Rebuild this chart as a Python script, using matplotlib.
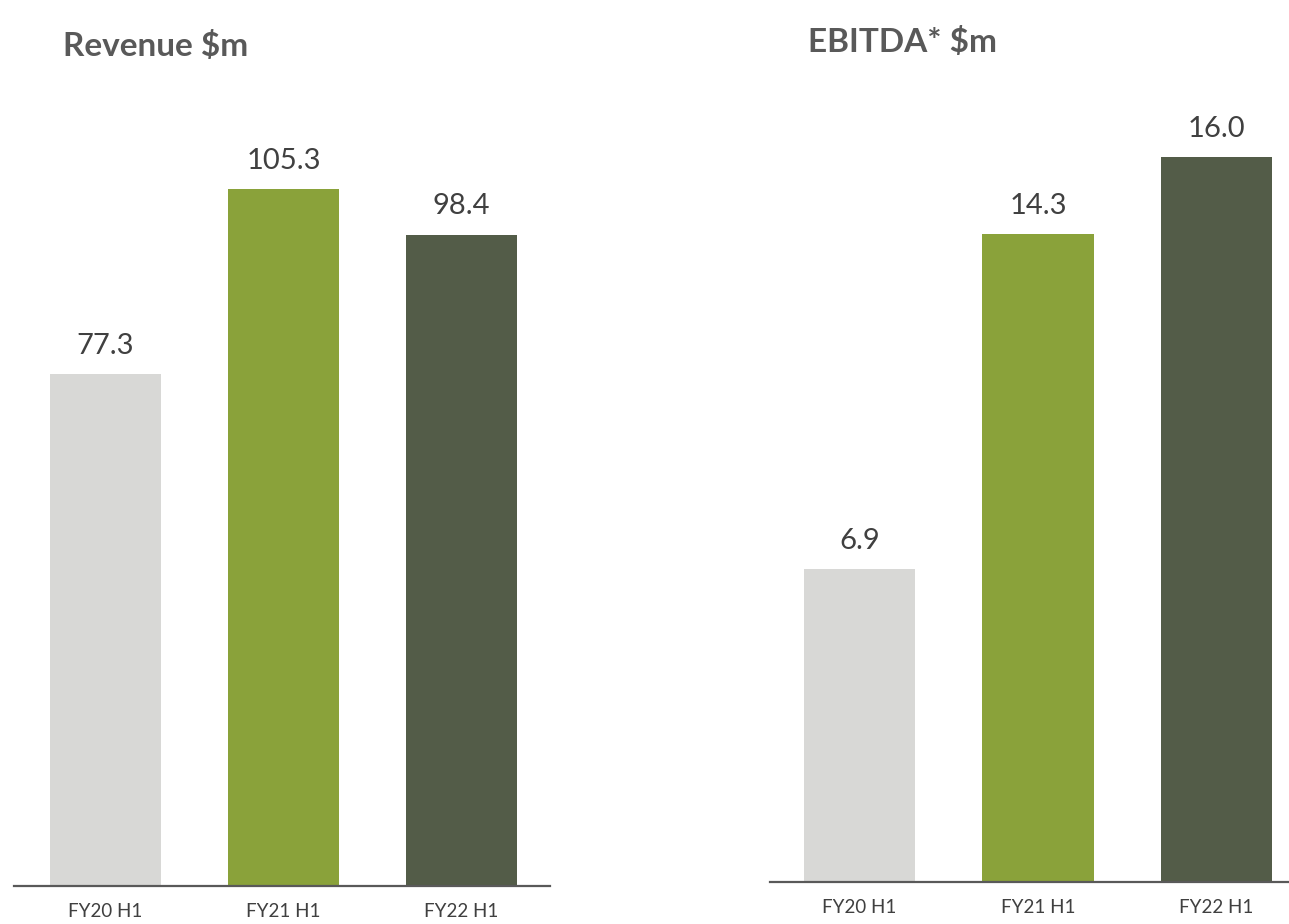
import matplotlib.pyplot as plt

# Half-year results
periods = ["FY20 H1", "FY21 H1", "FY22 H1"]
revenue = [77.3, 105.3, 98.4]
ebitda = [6.9, 14.3, 16.0]
bar_colors = ["#d8d8d6", "#8aa23a", "#535c48"]

plt.rcParams['font.family'] = ['Lato', 'DejaVu Sans']

fig = plt.figure(figsize=(12.89, 9.24), dpi=100)
W, H = 1289, 924


def panel(left, right, base, top, xlim, ylim, values, width):
    ax = fig.add_axes([left / W, (H - base) / H, (right - left) / W, (base - top) / H])
    x = range(len(values))
    bars = ax.bar(x, values, width=width, color=bar_colors, zorder=2)
    for b, v in zip(bars, values):
        ax.annotate(f"{v:.1f}", (b.get_x() + b.get_width() / 2, v),
                    xytext=(0, 11), textcoords="offset points",
                    ha="center", va="bottom", fontsize=21, color="#404040")
    ax.set_xlim(*xlim)
    ax.set_ylim(*ylim)
    ax.set_xticks(list(x))
    ax.set_xticklabels(periods, fontsize=13.5, color="#404040")
    ax.tick_params(axis="x", length=0, pad=12)
    ax.set_yticks([])
    for s in ["top", "right", "left"]:
        ax.spines[s].set_visible(False)
    ax.spines["bottom"].set_color("#595959")
    ax.spines["bottom"].set_linewidth(1.6)
    return ax


# revenue: 6.619 px per $m, bars 178 px apart
panel(14, 550, 886, 100, (-0.514, 2.497), (0, 786 / 6.619), revenue, 0.624)
# ebitda: 45.31 px per $m
panel(770, 1289, 882, 100, (-0.501, 2.406), (0, 782 / 45.31), ebitda, 0.622)

fig.text(63 / W, 1 - 56 / H, "Revenue $m", fontsize=24, fontweight="bold",
         color="#595959", ha="left", va="baseline")
fig.text(808 / W, 1 - 52 / H, "EBITDA* $m", fontsize=24, fontweight="bold",
         color="#595959", ha="left", va="baseline")

fig.savefig("out.png", dpi=100)
